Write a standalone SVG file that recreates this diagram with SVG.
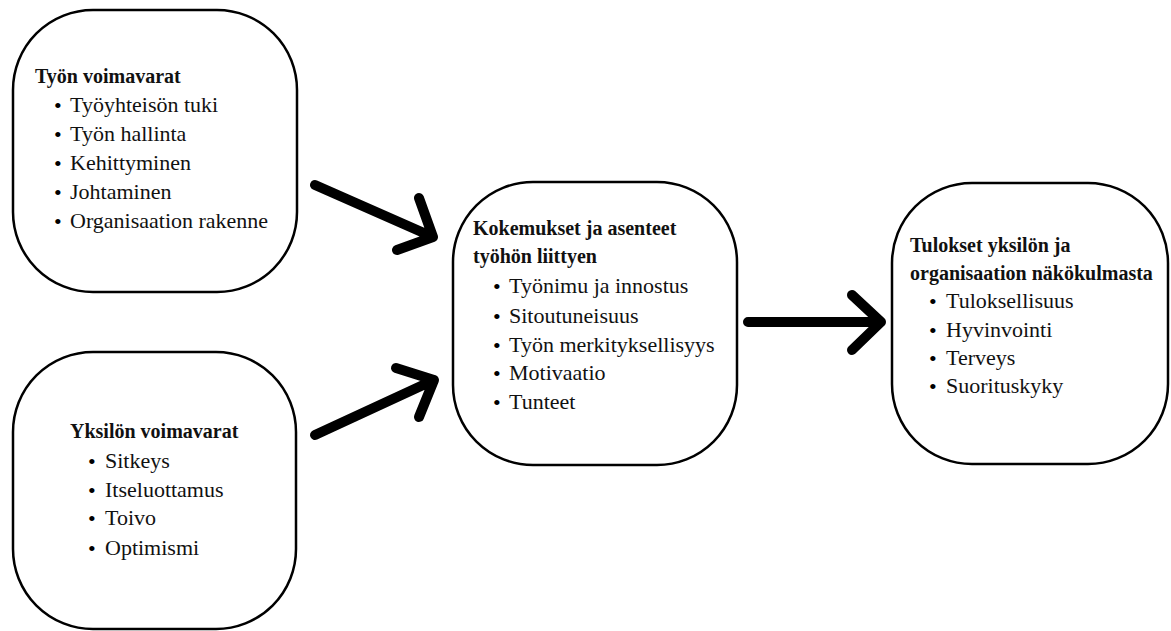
<svg xmlns="http://www.w3.org/2000/svg" width="1171" height="631" viewBox="0 0 1171 631">
<defs>
<style>
.box{fill:#fff;stroke:#000;stroke-width:2.5}
.t{font-family:"Liberation Serif","Times New Roman",serif;fill:#111}
.h{font-size:20px;font-weight:bold}
.i{font-size:22px}
.b{font-size:22px;fill:#000}
.arr{fill:none;stroke:#000;stroke-width:10;stroke-linecap:round;stroke-linejoin:round}
</style>
</defs>
<rect width="1171" height="631" fill="#fff"/>
<g id="node-tyon-voimavarat">
<rect class="box" x="13" y="10" width="284" height="282" rx="80" ry="80"/>
<text class="t h" x="35" y="83">Työn voimavarat</text>
<g class="t b"><text x="54" y="113">•</text><text x="54" y="142">•</text><text x="54" y="171">•</text><text x="54" y="200">•</text><text x="54" y="229">•</text></g>
<g class="t i">
<text x="70" y="112">Työyhteisön tuki</text>
<text x="70" y="141">Työn hallinta</text>
<text x="70" y="170">Kehittyminen</text>
<text x="70" y="199">Johtaminen</text>
<text x="70" y="228">Organisaation rakenne</text>
</g>
</g>
<g id="node-yksilon-voimavarat">
<rect class="box" x="13" y="352" width="283" height="277" rx="80" ry="80"/>
<text class="t h" x="70" y="438">Yksilön voimavarat</text>
<g class="t b"><text x="88" y="469">•</text><text x="88" y="498">•</text><text x="88" y="526">•</text><text x="88" y="556">•</text></g>
<g class="t i">
<text x="105" y="468">Sitkeys</text>
<text x="105" y="497">Itseluottamus</text>
<text x="105" y="525">Toivo</text>
<text x="105" y="555">Optimismi</text>
</g>
</g>
<g id="node-kokemukset">
<rect class="box" x="453" y="182" width="284" height="283" rx="80" ry="80"/>
<text class="t h" x="473" y="235">Kokemukset ja asenteet</text>
<text class="t h" x="473" y="263">työhön liittyen</text>
<g class="t b"><text x="493" y="294">•</text><text x="493" y="324">•</text><text x="493" y="353">•</text><text x="493" y="381">•</text><text x="493" y="410">•</text></g>
<g class="t i">
<text x="509" y="293">Työnimu ja innostus</text>
<text x="509" y="323">Sitoutuneisuus</text>
<text x="509" y="352">Työn merkityksellisyys</text>
<text x="509" y="380">Motivaatio</text>
<text x="509" y="409">Tunteet</text>
</g>
</g>
<g id="node-tulokset">
<rect class="box" x="892" y="183" width="276" height="281" rx="80" ry="80"/>
<text class="t h" x="910" y="252">Tulokset yksilön ja</text>
<text class="t h" x="910" y="280">organisaation näkökulmasta</text>
<g class="t b"><text x="929" y="309">•</text><text x="929" y="338">•</text><text x="929" y="366">•</text><text x="929" y="394">•</text></g>
<g class="t i">
<text x="946" y="308">Tuloksellisuus</text>
<text x="946" y="337">Hyvinvointi</text>
<text x="946" y="365">Terveys</text>
<text x="946" y="393">Suorituskyky</text>
</g>
</g>
<g id="connectors">
<path class="arr" d="M315,185 L433,237 M419,198 L433,237 L397,250"/>
<path class="arr" d="M315,435 L434,380 M396,368 L434,380 L419,417"/>
<path class="arr" d="M748,322 L881,322 M852,295 L881,322 L852,350"/>
</g>
</svg>
